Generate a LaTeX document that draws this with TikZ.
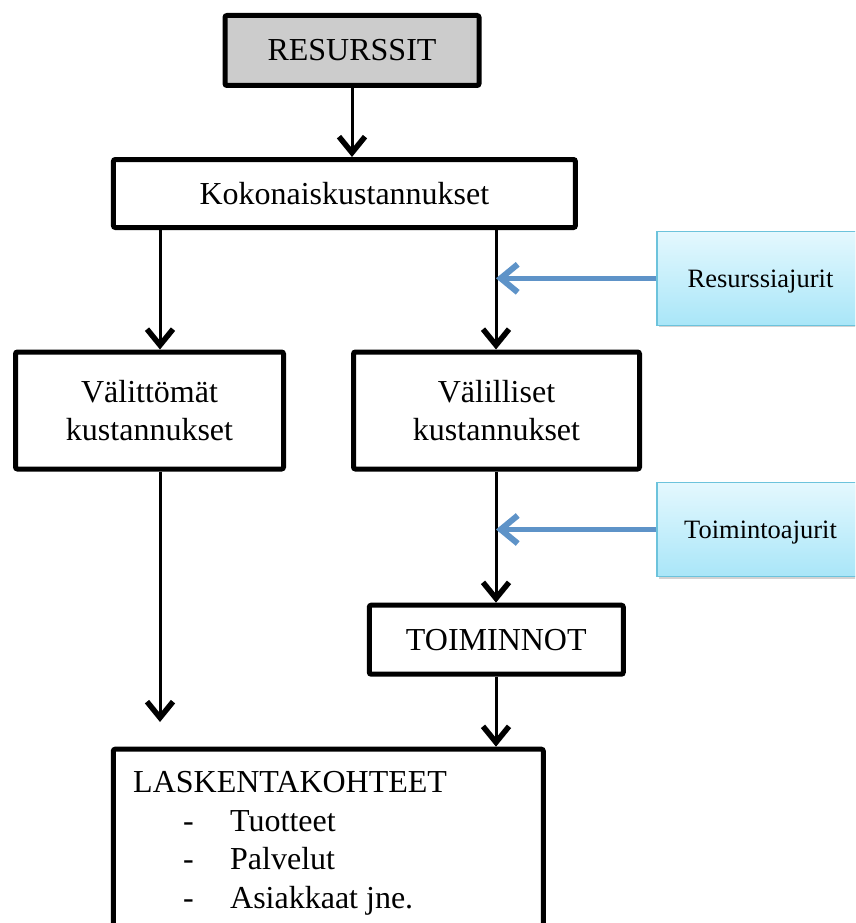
\documentclass[tikz,border=0pt]{standalone}
\usepackage{fontspec}
\setmainfont{Liberation Serif}
\usetikzlibrary{arrows.meta,shadows}

\definecolor{azulflecha}{HTML}{5E93C8}
\definecolor{azulborde}{HTML}{6CC3DC}
\definecolor{celesteclaro}{HTML}{E4F8FE}
\definecolor{celeste}{HTML}{A9E6F8}

% Cada elemento de la lista: guion y texto sangrados
\newcommand{\kohde}[1]{\hspace*{50pt}\makebox[47pt][l]{-}#1}

\begin{document}
\begin{tikzpicture}[x=1pt, y=-1pt, font=\fontsize{32}{38.5}\selectfont,
  caja/.style={draw, line width=5pt, rounded corners=2pt, inner sep=0pt, align=center},
  ajuri/.style={draw=azulborde, line width=1.5pt, top color=celesteclaro, bottom color=celeste,
    minimum width=207pt, minimum height=94pt, text depth=0pt, font=\fontsize{26.5}{32}\selectfont,
    drop shadow={opacity=0.35, shadow xshift=2pt, shadow yshift=-2pt}},
  flecha/.style={line width=3pt, -{Straight Barb[length=16pt, width=26pt, line width=5.5pt]}},
  flechaazul/.style={azulflecha, line width=5pt, -{Straight Barb[length=17pt, width=28pt, line width=6pt]}}]
% Fijamos el tamano del dibujo; las cajas que se salen quedan recortadas.
\useasboundingbox (0,0) rectangle (855,923);
\begin{scope}
\clip (0,0) rectangle (855,923);

% Cajas principales
\node[caja, fill=gray!40, minimum width=254pt, minimum height=70pt] (recursos) at (352,50.5) {RESURSSIT};
\node[caja, minimum width=462pt, minimum height=68pt] (koko) at (344.4,193.5) {Kokonaiskustannukset};
\node[caja, minimum width=268pt, minimum height=117pt] (valittomat) at (149.5,410.5) {Välittömät\\kustannukset};
\node[caja, minimum width=286pt, minimum height=117pt] (valilliset) at (496.5,410.5) {Välilliset\\kustannukset};
\node[caja, minimum width=254pt, minimum height=69pt] (toiminnot) at (496.3,639.7) {TOIMINNOT};
\node[caja, minimum width=430pt, minimum height=250pt] (laskenta) at (328.3,874.2) {};
\node[anchor=north west, inner sep=0pt, align=left] (kohteet) at (133,771.5)
  {LASKENTAKOHTEET\\\kohde{Tuotteet}\\\kohde{Palvelut}\\\kohde{Asiakkaat jne.}};

% Ajurit, a la derecha
\node[ajuri] (resurssiajurit) at (760.5,278.3) {Resurssiajurit};
\node[ajuri] (toimintoajurit) at (760.5,529.5) {Toimintoajurit};

% Ejes verticales de las flechas
\coordinate (eje1) at (160,0);
\coordinate (eje2) at (496,0);
\coordinate (punta) at (160,722);

\draw[flecha] (recursos.south) -- (recursos.south |- koko.north);
\draw[flecha] (eje1 |- koko.south) -- (eje1 |- valittomat.north);
\draw[flecha] (eje2 |- koko.south) -- (eje2 |- valilliset.north);
\draw[flecha] (eje1 |- valittomat.south) -- (punta);
\draw[flecha] (eje2 |- valilliset.south) -- (eje2 |- toiminnot.north);
\draw[flecha] (eje2 |- toiminnot.south) -- (eje2 |- laskenta.north);

\draw[flechaazul] (resurssiajurit.west) -- (eje2 |- resurssiajurit.west);
\draw[flechaazul] (toimintoajurit.west) -- (eje2 |- toimintoajurit.west);
\end{scope}
\end{tikzpicture}
\end{document}
